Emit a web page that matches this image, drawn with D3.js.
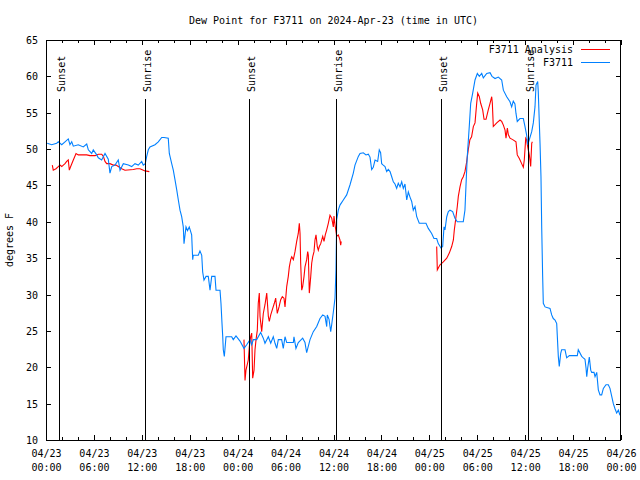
<!DOCTYPE html>
<html>
<head>
<meta charset="utf-8">
<script src="https://cdn.jsdelivr.net/npm/d3@7"></script>
<style>
  html, body { margin: 0; padding: 0; background: #fff; }
  svg { display: block; }
  text { font-family: "DejaVu Sans Mono", "Liberation Mono", monospace; font-size: 10px; fill: #000; }
</style>
</head>
<body>
<svg id="chart" width="640" height="480"></svg>
<script>
// ---- DATA (hours since 2024-04-23 00:00 UTC) ----
const titleText = "Dew Point for F3711 on 2024-Apr-23 (time in UTC)";
const yLabelText = "degrees F";
const seriesNames = ["F3711 Analysis", "F3711"];

const obsHours = [0.15,0.71,1.34,1.54,1.97,2.38,2.79,3.0,3.22,3.42,4.04,4.67,5.10,5.30,5.72,5.92,6.35,6.55,6.97,7.39,7.80,8.01,8.23,8.64,9.05,9.27,9.68,10.31,10.73,11.14,11.56,11.98,12.18,12.43,12.61,12.81,13.02,13.65,14.06,14.49,14.78,15.31,15.44,15.74,15.94,16.15,16.37,16.57,16.78,16.99,17.19,17.28,17.53,17.72,17.94,18.24,18.37,18.44,19.07,19.28,19.5,19.62,19.78,20.04,20.32,20.54,20.75,21.16,21.29,21.79,21.91,22.04,22.13,22.2,22.33,22.54,23.25,23.45,23.79,24.29,24.79,25.13,25.54,25.76,25.96,26.38,26.88,27.21,27.42,27.84,28.14,28.46,28.68,28.89,29.09,29.51,29.71,29.93,30.14,30.97,31.05,31.3,31.59,32.14,32.43,32.64,33.06,33.47,33.9,34.31,34.65,34.94,35.15,35.22,35.44,35.65,35.78,35.98,36.19,36.31,36.4,36.6,36.81,37.23,37.65,38.07,38.48,38.69,39.11,39.32,39.73,40.07,40.36,40.57,40.78,40.98,41.2,41.53,41.73,41.9,42.03,42.23,42.45,42.66,42.86,43.08,43.29,43.49,43.7,43.91,44.11,44.33,44.54,44.74,44.95,45.17,45.37,45.58,45.79,45.99,46.21,46.42,46.74,47.58,47.87,48.29,48.58,48.92,49.12,49.46,49.67,49.84,49.96,50.18,50.38,50.59,50.92,51.21,51.5,52.25,52.46,52.59,52.75,53.0,53.18,53.43,53.72,54.01,54.26,54.56,54.76,55.19,55.6,55.85,56.23,56.64,57.06,57.27,57.69,58.1,58.31,58.51,58.72,58.85,59.01,59.35,59.77,59.98,60.19,60.32,60.52,60.82,61.02,61.23,61.36,61.57,61.64,61.86,61.98,62.07,62.19,62.27,62.49,63.11,63.32,63.52,63.74,63.95,64.02,64.15,64.27,64.45,64.57,64.99,65.2,65.53,66.53,66.65,67.08,67.28,67.49,67.62,67.71,67.83,68.03,68.21,68.33,68.62,68.75,68.96,69.16,69.37,69.58,69.79,70.12,70.41,70.62,70.84,71.04,71.25,71.46,71.67,71.87];
const obsValues = [50.8,50.6,50.8,51.0,50.6,51.0,51.4,50.6,51.0,50.4,50.6,50.3,50.7,49.9,49.4,49.9,49.2,48.8,48.5,49.4,48.6,46.7,47.6,47.8,48.5,47.1,48.0,47.8,47.6,48.0,47.8,48.3,47.8,48.0,49.0,49.9,50.3,50.6,51.0,51.6,51.6,51.5,49.4,48.0,47.1,45.8,44.4,43.0,41.6,40.7,39.3,37.0,39.3,38.8,39.3,38.2,34.8,35.4,35.4,36.0,35.4,33.1,32.0,32.5,32.5,30.6,32.5,32.5,30.6,30.6,28.8,26.0,24.2,22.4,21.5,24.2,24.2,23.8,24.3,23.6,22.6,23.1,23.8,23.1,23.8,23.8,24.8,24.0,23.3,24.2,23.3,24.2,23.3,22.6,23.8,23.8,22.6,24.2,23.4,23.4,24.2,22.6,23.4,24.0,23.4,22.0,23.8,24.9,25.6,26.7,27.2,27.0,25.6,27.2,26.6,24.9,25.9,27.6,29.5,33.4,40.3,41.6,42.3,43.0,43.7,45.1,46.7,47.8,49.0,49.4,49.5,49.2,49.3,48.9,47.2,47.5,48.5,48.3,49.9,49.5,48.0,47.8,47.6,46.9,47.2,46.9,46.2,45.5,45.2,44.6,45.3,44.8,45.5,44.6,45.2,43.0,44.1,43.4,42.8,41.6,42.1,40.7,39.8,39.8,39.1,38.4,37.7,37.7,37.0,36.4,36.6,39.3,38.9,40.7,41.4,41.6,41.4,40.5,40.0,40.0,41.6,45.0,49.0,53.1,56.3,57.7,59.5,60.4,60.0,60.4,59.8,60.4,60.5,60.0,59.7,59.9,59.5,58.1,57.2,56.5,55.8,56.6,56.2,54.9,53.8,54.2,54.2,53.1,51.9,50.6,51.3,52.4,53.6,55.8,58.8,59.3,57.9,50.8,46.2,39.3,32.5,28.8,28.3,28.1,27.2,26.7,26.5,26.0,24.4,21.5,20.1,21.9,22.4,22.4,21.3,21.6,21.6,22.4,21.5,21.3,21.1,19.9,18.7,19.9,21.4,19.6,19.3,19.3,18.7,19.3,16.9,16.2,16.2,17.1,17.6,17.6,17.1,16.0,15.0,14.3,13.7,14.1,13.4];

// analysis: null value = gap in the line
const anaHours = [0.79,0.91,1.25,1.54,1.75,1.97,2.17,2.38,2.59,2.79,2.92,3.09,3.42,3.76,4.04,4.47,5.10,5.51,6.14,6.55,6.97,7.18,7.39,7.60,8.01,8.43,8.77,9.05,9.48,9.89,10.93,11.36,11.77,11.98,12.40,12.94,
  18.0,
  24.79,24.92,25.04,25.33,25.46,25.63,25.76,25.88,26.05,26.17,26.3,26.46,26.58,26.71,26.8,27.01,27.21,27.42,27.64,27.84,27.96,28.14,28.39,28.59,28.76,28.96,29.18,29.39,29.59,29.8,29.93,30.14,30.34,30.47,30.64,30.77,30.97,31.18,31.39,31.59,31.72,31.81,31.89,32.02,32.14,32.31,32.43,32.64,32.77,32.85,32.97,33.15,33.27,33.4,33.56,33.68,33.81,33.97,34.1,34.22,34.4,34.65,34.81,34.97,35.15,35.35,35.56,35.78,35.98,36.06,36.19,36.4,36.6,36.81,36.9,36.97,
  42.0,
  48.92,49.0,49.34,49.75,50.18,50.5,50.8,51.01,51.13,51.34,51.5,51.63,51.84,52.05,52.25,52.46,52.67,52.87,53.08,53.29,53.51,53.72,53.93,54.06,54.26,54.43,54.68,54.85,55.1,55.38,55.6,55.81,55.89,56.01,56.44,56.85,57.06,57.27,57.48,57.6,57.77,57.89,58.1,58.44,58.85,59.01,59.27,59.56,59.77,59.89,60.07,60.19,60.27,60.39,60.52,60.6,60.69,60.82,60.9];
const anaValues = [47.8,47.1,47.3,47.6,47.8,47.6,47.8,48.0,48.3,48.5,47.1,47.6,48.5,49.4,49.2,49.2,49.2,49.1,49.1,49.3,49.3,49.0,48.3,48.0,48.0,47.8,47.8,47.6,47.3,47.1,47.2,47.3,47.3,47.2,47.0,46.9,
  null,
  23.8,18.2,19.6,21.0,22.8,24.2,24.7,18.5,19.6,22.4,23.8,25.1,28.8,30.2,27.0,24.9,27.4,28.6,30.2,27.0,26.3,27.2,28.1,28.8,29.5,27.4,28.3,29.3,29.7,29.5,28.3,31.1,32.5,33.8,34.8,35.2,34.8,35.9,37.3,38.4,39.8,38.4,34.3,30.6,31.1,32.5,33.8,34.8,35.9,35.4,30.2,32.5,34.3,35.2,35.9,37.5,38.2,36.6,36.1,36.6,37.0,38.0,37.3,38.2,38.9,39.8,40.9,40.5,39.3,40.8,39.6,38.0,38.2,37.5,36.8,37.3,
  null,
  36.6,33.4,34.1,34.5,35.0,35.7,36.6,37.5,38.9,40.7,42.1,43.5,44.8,45.8,46.2,46.9,48.2,49.9,51.3,51.7,53.1,53.6,56.3,57.7,57.2,56.3,55.4,54.1,54.1,55.4,56.3,57.2,56.3,53.1,53.6,54.0,53.8,53.3,52.6,51.5,52.9,52.0,51.5,51.3,51.0,49.2,48.7,48.0,47.5,48.5,51.5,51.3,50.6,49.9,49.2,48.5,47.6,50.8,51.0];

const sunHours = [1.57, 12.43, 25.46, 36.31, 49.46, 60.36];
const sunLabels = ["Sunset", "Sunrise", "Sunset", "Sunrise", "Sunset", "Sunrise"];
const sunLineTop = 56.9;   // value where the marker lines start

const yTicks = [10,15,20,25,30,35,40,45,50,55,60,65];
const xStartHours = 0, xEndHours = 72;

// ---- CHART ----
const base = Date.UTC(2024, 3, 23);
const toDate = h => new Date(base + h * 3600e3);

const W = 640, H = 480;
const M = { left: 46, right: 19, top: 40, bottom: 40 };
const svg = d3.select("#chart");
svg.append("rect").attr("width", W).attr("height", H).attr("fill", "#fff");

const x = d3.scaleUtc().domain([toDate(xStartHours), toDate(xEndHours)]).range([M.left, W - M.right]);
const y = d3.scaleLinear().domain([10, 65]).range([H - M.bottom, M.top]);

const majorX = d3.utcHour.every(6).range(toDate(0), toDate(72.01));
const minorX = d3.utcHour.every(2).range(toDate(0), toDate(72.01));

const fmtDate = d3.utcFormat("%m/%d"), fmtTime = d3.utcFormat("%H:%M");

// minor ticks bottom/top
svg.append("g").attr("transform", `translate(0,${H - M.bottom})`)
  .call(d3.axisBottom(x).tickValues(minorX).tickSize(-3).tickFormat(""))
  .call(g => g.select(".domain").remove());
svg.append("g").attr("transform", `translate(0,${M.top})`)
  .call(d3.axisTop(x).tickValues(minorX).tickSize(-3).tickFormat(""))
  .call(g => g.select(".domain").remove());

// major ticks bottom with labels
const xAxisG = svg.append("g").attr("transform", `translate(0,${H - M.bottom})`)
  .call(d3.axisBottom(x).tickValues(majorX).tickSize(-5).tickPadding(0).tickFormat(""))
  .call(g => g.select(".domain").remove());
xAxisG.selectAll(".tick").each(function(d) {
  const t = d3.select(this).append("text").attr("text-anchor", "middle").attr("fill", "#000");
  t.append("tspan").attr("x", 0).attr("y", 16.5).text(fmtDate(d));
  t.append("tspan").attr("x", 0).attr("y", 30.5).text(fmtTime(d));
});
svg.append("g").attr("transform", `translate(0,${M.top})`)
  .call(d3.axisTop(x).tickValues(majorX).tickSize(-5).tickFormat(""))
  .call(g => g.select(".domain").remove());

// y axes
svg.append("g").attr("transform", `translate(${M.left},0)`)
  .call(d3.axisLeft(y).tickValues(yTicks).tickSize(-5).tickPadding(8).tickFormat(d3.format("d")))
  .call(g => g.select(".domain").remove())
  .call(g => g.selectAll("text").attr("dy", "0.35em"));
svg.append("g").attr("transform", `translate(${W - M.right},0)`)
  .call(d3.axisRight(y).tickValues(yTicks).tickSize(-5).tickFormat(""))
  .call(g => g.select(".domain").remove());

svg.selectAll(".tick line").attr("stroke", "#000").attr("shape-rendering", "crispEdges");
svg.selectAll("g").attr("font-family", null).attr("font-size", null);

// data lines
const line = d3.line()
  .defined(d => d[1] !== null)
  .x(d => x(toDate(d[0])))
  .y(d => y(d[1]));

svg.append("clipPath").attr("id", "plotclip").append("rect")
  .attr("x", M.left).attr("y", M.top).attr("width", W - M.left - M.right).attr("height", H - M.top - M.bottom);

svg.append("path")
  .datum(anaHours.map((h, i) => [h, anaValues[i]]))
  .attr("d", line).attr("fill", "none").attr("stroke", "#ff0000").attr("stroke-width", 1.1)
  .attr("clip-path", "url(#plotclip)");

svg.append("path")
  .datum(obsHours.map((h, i) => [h, obsValues[i]]))
  .attr("d", line).attr("fill", "none").attr("stroke", "#0080ff").attr("stroke-width", 1.1)
  .attr("clip-path", "url(#plotclip)");

// sunrise / sunset markers
sunHours.forEach((h, i) => {
  const xp = Math.round(x(toDate(h))) + 0.5;
  svg.append("line").attr("x1", xp).attr("x2", xp)
    .attr("y1", y(sunLineTop)).attr("y2", H - M.bottom)
    .attr("stroke", "#000").attr("stroke-width", 1).attr("shape-rendering", "crispEdges");
  svg.append("text")
    .attr("transform", `translate(${xp},${y(sunLineTop) - 7}) rotate(-90)`)
    .attr("text-anchor", "start")
    .attr("dy", "0.5em")
    .text(sunLabels[i]);
});

// border
svg.append("rect").attr("x", M.left + 0.5).attr("y", M.top + 0.5)
  .attr("width", W - M.left - M.right - 1).attr("height", H - M.top - M.bottom)
  .attr("fill", "none").attr("stroke", "#000").attr("shape-rendering", "crispEdges");

// title
svg.append("text").attr("x", (M.left + W - M.right) / 2).attr("y", 23.5)
  .attr("text-anchor", "middle").text(titleText);

// y label
svg.append("text").attr("transform", `translate(13,${(M.top + H - M.bottom) / 2}) rotate(-90)`)
  .attr("text-anchor", "middle").text(yLabelText);

// legend
const legendColors = ["#ff0000", "#0080ff"];
seriesNames.forEach((name, i) => {
  const ly = 49 + i * 13;
  svg.append("text").attr("x", 573).attr("y", ly).attr("dy", "0.35em")
    .attr("text-anchor", "end").text(name);
  svg.append("line").attr("x1", 581).attr("x2", 610).attr("y1", ly + 0.5).attr("y2", ly + 0.5)
    .attr("stroke", legendColors[i]).attr("stroke-width", 1);
});
</script>
</body>
</html>
